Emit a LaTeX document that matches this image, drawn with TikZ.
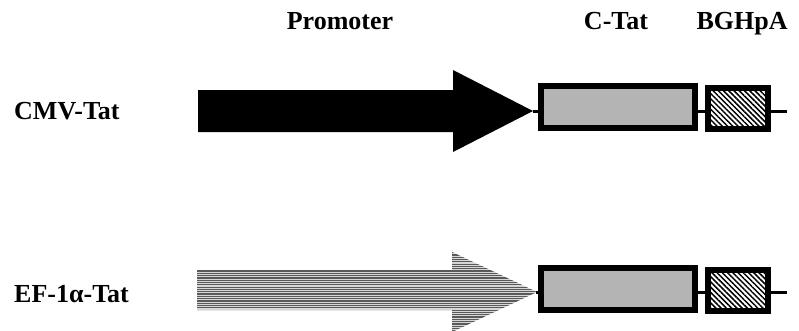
\documentclass[tikz,border=0pt]{standalone}
\usepackage{fontspec}
\setmainfont{Liberation Serif}
\usetikzlibrary{patterns.meta}
\definecolor{boxgray}{HTML}{B4B4B4}
\definecolor{stripedark}{HTML}{5A5A5A}
\definecolor{stripelight}{HTML}{D6D6D6}
\begin{document}
\begin{tikzpicture}[x=1pt,y=-1pt,
  lbl/.style={font=\fontsize{26}{30}\selectfont\bfseries, inner sep=0pt, anchor=base},
  rowlbl/.style={lbl, anchor=base west},
  genebox/.style={draw=black, line width=6pt, fill=boxgray, rectangle,
    inner sep=0pt, minimum width=154pt, minimum height=42pt},
  pabox/.style={draw=black, line width=6pt, rectangle, inner sep=0pt,
    minimum width=60pt, minimum height=41pt,
    pattern={Lines[angle=-45,distance=3.7pt,line width=1.5pt]}},
  link/.style={draw=black, line width=3pt}]
\useasboundingbox (0,0) rectangle (799,330);

% column headings
\node[lbl] (hprom) at (340,29) {Promoter};
\node[lbl] (hctat) at (616,29) {C-Tat};
\node[lbl] (hbgh)  at (742,29) {BGHpA};

% row labels
\node[rowlbl] (lcmv) at (14,119) {CMV-Tat};
\node[rowlbl] (lef)  at (14,302) {EF-1α-Tat};

% CMV promoter: solid arrow
\fill[black] (198,90) -- (453,90) -- (453,70) -- (533,111) -- (453,152)
  -- (453,132) -- (198,132) -- cycle;
\coordinate (tipA) at (533,111);

% CMV construct: coding box, polyA box and backbone
\node[genebox] (ctatA) at (618,107) {};
\node[pabox] (bghA) at (738,108.5) {};
\coordinate (endA) at (787,111);
\draw[link] (tipA) -- (ctatA.west |- tipA);
\draw[link] (ctatA.east |- tipA) -- (bghA.west |- tipA);
\draw[link] (bghA.east |- tipA) -- (endA);

% EF-1alpha promoter: horizontally striped arrow
\begin{scope}
  \clip (197,270) -- (452,270) -- (452,252) -- (537,292) -- (452,332)
    -- (452,310) -- (197,310) -- cycle;
  \fill[stripelight] (190,245) rectangle (545,335);
  \foreach \i in {0,...,35}
    \draw[stripedark, line width=1.2pt] (190,252.6+2.3*\i) -- (545,252.6+2.3*\i);
\end{scope}
\coordinate (tipB) at (536,292);

% EF-1alpha construct
\node[genebox] (ctatB) at (618,289) {};
\node[pabox] (bghB) at (738,290.5) {};
\coordinate (endB) at (787,292);
\draw[link] (tipB) -- (ctatB.west |- tipB);
\draw[link] (ctatB.east |- tipB) -- (bghB.west |- tipB);
\draw[link] (bghB.east |- tipB) -- (endB);
\end{tikzpicture}
\end{document}
